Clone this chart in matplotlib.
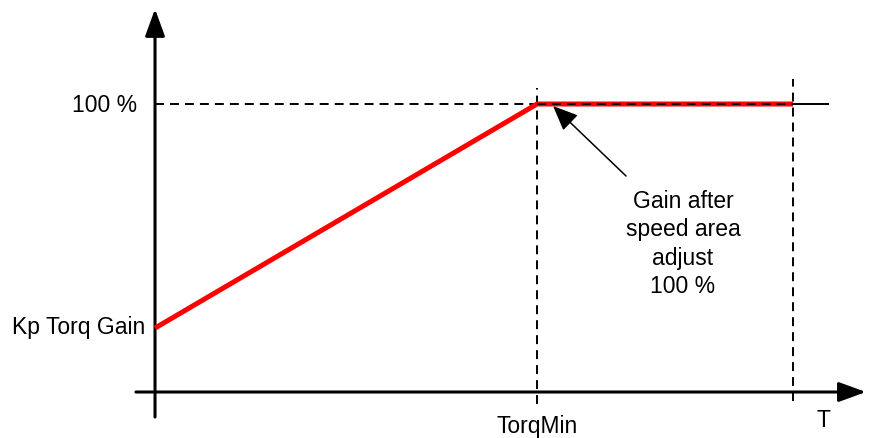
import matplotlib.pyplot as plt

plt.rcParams['font.family'] = ['Liberation Sans', 'DejaVu Sans']

# Gain curve (x: torque relative to TorqMin, y: gain in %)
gain_x = [0.0, 1.0, 1.67]
gain_y = [22.2, 100.0, 100.0]
torq_min = 1.0
t_end = 1.67
full_gain = 100.0

fig = plt.figure(figsize=(8.69, 4.39), dpi=100)
ax = fig.add_axes([0, 0, 1, 1])
ax.set_xlim(-0.4058, 1.869)
ax.set_ylim(-15.97, 136.46)
ax.axis('off')

# axes with arrows
ax.annotate('', xy=(0, 133.0), xytext=(0, -8.7),
            arrowprops=dict(arrowstyle='-|>,head_length=0.66,head_width=0.24',
                            mutation_scale=25, lw=2.2, color='black',
                            shrinkA=0, shrinkB=0))
ax.annotate('', xy=(1.861, 0), xytext=(-0.05, 0),
            arrowprops=dict(arrowstyle='-|>,head_length=0.66,head_width=0.24',
                            mutation_scale=25, lw=2.2, color='black',
                            shrinkA=0, shrinkB=0))

# dashed guide lines
dash = dict(color='black', lw=1.4, dashes=(4.6, 3.1))
ax.plot([0, 1.764], [full_gain, full_gain], **dash)
ax.plot([torq_min, torq_min], [-4.2, 105.6], **dash)
ax.plot([t_end, t_end], [-3.1, 108.7], **dash)

# gain curve
ax.plot(gain_x, gain_y, color='#ff0000', lw=3.6, solid_capstyle='butt', zorder=3)
ax.plot([torq_min, 1.764], [full_gain, full_gain], zorder=4, **dash)

# annotation
ax.annotate('', xy=(1.042, 99.3), xytext=(1.233, 75.0),
            arrowprops=dict(arrowstyle='-|>,head_length=0.7,head_width=0.3',
                            mutation_scale=22, lw=1.1, color='black',
                            shrinkA=0, shrinkB=0), zorder=5)
ax.text(1.382, 70.5, 'Gain after\nspeed area\nadjust\n100 %', ha='center', va='top',
        fontsize=16.5, linespacing=1.3)

# labels
ax.text(-0.047, full_gain, '100 %', ha='right', va='center', fontsize=16.5)
ax.text(-0.026, 22.9, 'Kp Torq Gain', ha='right', va='center', fontsize=16.5)
ax.text(torq_min, -13.9, 'TorqMin', ha='center', va='baseline', fontsize=16.5)
ax.text(1.749, -9.7, 'T', ha='center', va='center', fontsize=16.5)

fig.savefig('out.png', dpi=100)
